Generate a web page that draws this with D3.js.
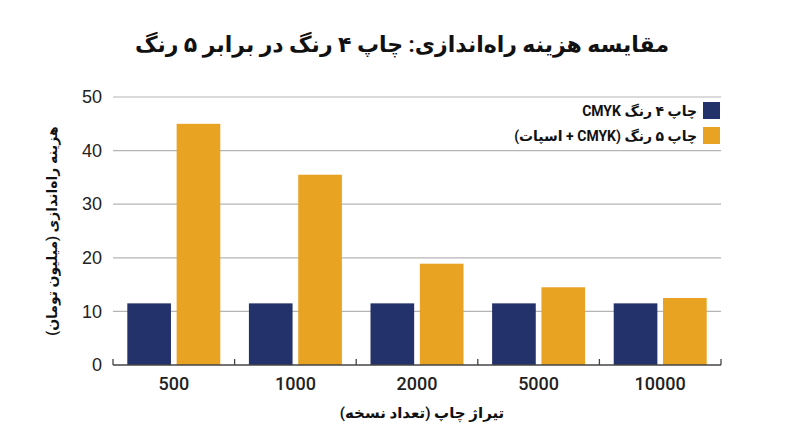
<!DOCTYPE html>
<html lang="fa">
<head>
<meta charset="utf-8">
<script src="https://cdn.jsdelivr.net/npm/d3@7"></script>
<style>
  body { margin: 0; background: #fff; }
  svg { display: block; font-family: Roboto, "DejaVu Sans", sans-serif; }
</style>
</head>
<body>
<div id="chart"></div>
<script>
// Chart data
const runs = ["500", "1000", "2000", "5000", "10000"];
const cost4 = [11.5, 11.5, 11.5, 11.5, 11.5];
const cost5 = [45, 35.5, 18.9, 14.5, 12.5];
const seriesNames = ["چاپ ۴ رنگ  CMYK", "چاپ ۵ رنگ (CMYK + اسپات)"];
const seriesColors = ["#23326a", "#e8a323"];
const yTicks = [0, 10, 20, 30, 40, 50];

const W = 800, H = 447;
const margin = { top: 97, right: 79, bottom: 82, left: 113 };
const width = W - margin.left - margin.right;
const height = H - margin.top - margin.bottom;

const svg = d3.select("#chart")
  .append("svg")
  .attr("width", W)
  .attr("height", H);

const g = svg.append("g")
  .attr("transform", `translate(${margin.left},${margin.top})`);

const x = d3.scaleBand().domain(runs).range([0, width]).padding(0);
const xSub = d3.scaleBand()
  .domain([0, 1])
  .range([0, x.bandwidth()])
  .paddingInner(0.115)
  .paddingOuter(0.29);
const y = d3.scaleLinear().domain([0, 50]).range([height, 0]);

// gridlines
g.append("g")
  .selectAll("line")
  .data(yTicks.filter((d) => d > 0))
  .enter()
  .append("line")
  .attr("x1", 0)
  .attr("x2", width)
  .attr("y1", (d) => y(d))
  .attr("y2", (d) => y(d))
  .attr("stroke", "#b5b5b5")
  .attr("stroke-width", 1.2);

// y axis labels
const yAxis = g.append("g")
  .call(d3.axisLeft(y).tickValues(yTicks).tickSize(0).tickPadding(11));
yAxis.select(".domain").remove();
yAxis.selectAll("text")
  .style("font-size", "18px")
  .style("font-weight", "500")
  .attr("fill", "#222");

// bars
const rows = runs.map((r, i) => ({ run: r, vals: [cost4[i], cost5[i]] }));
const groups = g.selectAll(".grp")
  .data(rows)
  .enter()
  .append("g")
  .attr("transform", (d) => `translate(${x(d.run)},0)`);

groups.selectAll("rect")
  .data((d) => d.vals.map((v, k) => ({ k, v })))
  .enter()
  .append("rect")
  .attr("x", (d) => xSub(d.k))
  .attr("width", xSub.bandwidth())
  .attr("y", (d) => y(d.v))
  .attr("height", (d) => height - y(d.v))
  .attr("fill", (d) => seriesColors[d.k]);

// x axis: baseline with ticks at band edges
const xAxis = g.append("g").attr("transform", `translate(0,${height})`);
xAxis.append("line")
  .attr("x1", 0).attr("x2", width)
  .attr("stroke", "#444").attr("stroke-width", 1.3);
xAxis.selectAll(".edge")
  .data(runs.concat(["end"]))
  .enter()
  .append("line")
  .attr("x1", (d, i) => i * x.step())
  .attr("x2", (d, i) => i * x.step())
  .attr("y1", 0).attr("y2", -6)
  .attr("stroke", "#444").attr("stroke-width", 1.3);
xAxis.selectAll("text")
  .data(runs)
  .enter()
  .append("text")
  .attr("x", (d) => x(d) + x.bandwidth() / 2)
  .attr("y", 25)
  .attr("text-anchor", "middle")
  .style("font-size", "18px")
  .style("font-weight", "500")
  .attr("fill", "#222")
  .text((d) => d);

// titles
svg.append("text")
  .attr("x", 402)
  .attr("y", 52)
  .attr("text-anchor", "middle")
  .attr("direction", "rtl")
  .style("font-size", "22px")
  .style("font-weight", "bold")
  .attr("fill", "#111")
  .text("مقایسه هزینه راه‌اندازی: چاپ ۴ رنگ در برابر ۵ رنگ");

svg.append("text")
  .attr("x", 422)
  .attr("y", 418)
  .attr("text-anchor", "middle")
  .attr("direction", "rtl")
  .style("font-size", "15px")
  .style("font-weight", "bold")
  .attr("fill", "#111")
  .text("تیراژ چاپ (تعداد نسخه)");

svg.append("text")
  .attr("transform", `translate(57,${margin.top + height / 2}) rotate(-90)`)
  .attr("text-anchor", "middle")
  .attr("direction", "rtl")
  .style("font-size", "14px")
  .style("font-weight", "bold")
  .attr("fill", "#111")
  .text("هزینه راه‌اندازی (میلیون تومان)");

// legend
const legend = svg.append("g");
legend.append("rect")
  .attr("x", 470).attr("y", 99)
  .attr("width", 252).attr("height", 49)
  .attr("fill", "#fff");
seriesNames.forEach((name, i) => {
  const ly = 102 + i * 25;
  legend.append("rect")
    .attr("x", 703).attr("y", ly)
    .attr("width", 17).attr("height", 17)
    .attr("fill", seriesColors[i]);
  legend.append("text")
    .attr("x", 697).attr("y", ly + 14)
    .attr("text-anchor", "start")
    .attr("direction", "rtl")
    .style("font-size", "14px")
    .style("font-weight", "bold")
    .attr("fill", "#111")
    .text(name);
});
</script>
</body>
</html>
